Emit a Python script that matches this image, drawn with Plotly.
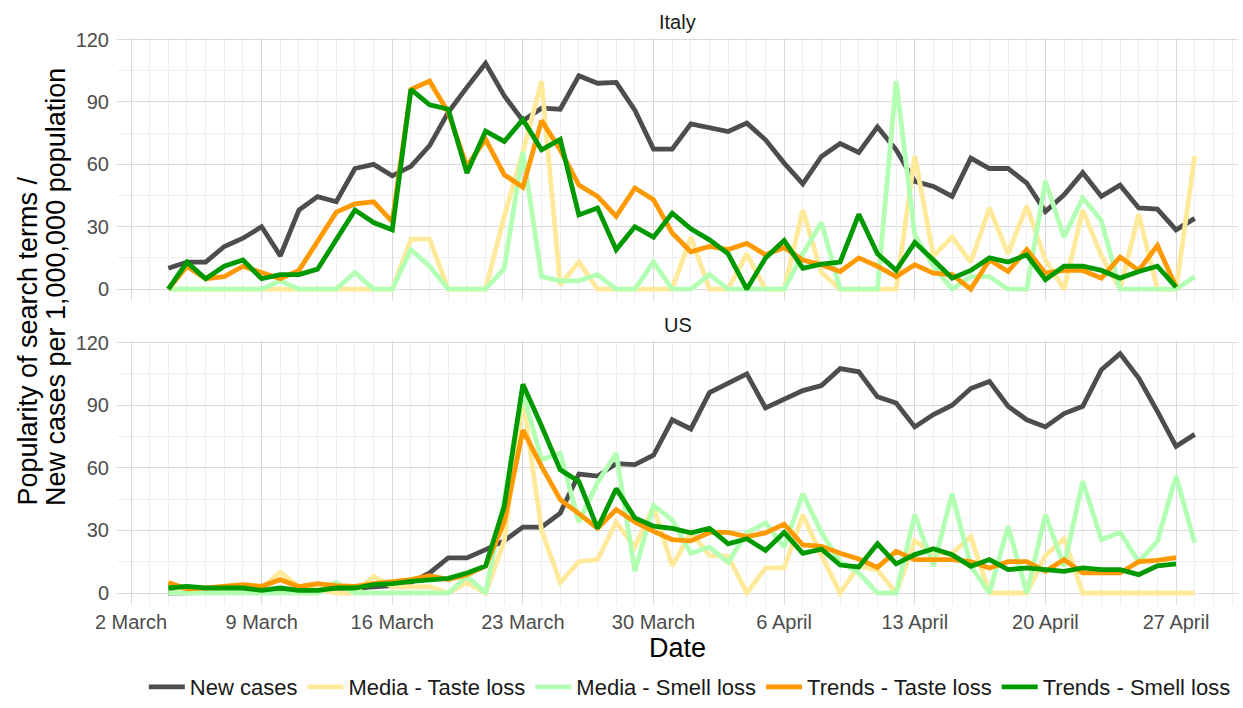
import pandas as pd
import plotly.graph_objects as go

# ---------------- data ----------------
dates = pd.date_range("2020-03-04", "2020-04-28", freq="D")

italy_new_cases = [10, 13, 13, 20.5, 24.5, 30, 16, 38, 44.5, 42, 58, 60, 54.5, 59, 69, 85, 97, 108.6, 93, 81,
                   87, 86.5, 102.6, 99, 99.4, 86, 67.3, 67.3, 79.5, 77.4, 75.8, 79.8, 71.8, 60.6, 50.6, 63.8, 70, 65.7, 78, 67,
                   51.8, 49.4, 44.6, 63, 58, 58, 51, 37.3, 45.4, 56, 44.6, 50, 39, 38.5, 28.5, 34]
italy_media_taste = [0, 0, 0, 0, 0, 0, 0, 0, 0, 0, 0, 0, 0, 24, 24, 0, 0, 0, 35, 66,
                     100, 2, 13, 0, 0, 0, 0, 0, 25, 0, 0, 17, 0, 0, 38, 8, 0, 0, 0, 0,
                     64, 16, 25, 13, 39, 17, 40, 14, 0, 38, 16, 0, 36, 0, 0, 64]
italy_media_smell = [0, 0, 0, 0, 0, 0, 4, 0, 0, 0, 8, 0, 0, 19, 11, 0, 0, 0, 10, 66,
                     6, 4, 4, 7, 0, 0, 13, 0, 0, 7, 0, 0, 0, 0, 17, 32, 0, 0, 0, 100,
                     26, 11, 0, 6, 6, 0, 0, 52, 25, 44, 33, 0, 0, 0, 0, 6]
italy_trends_taste = [0, 11, 5, 6, 11, 8, 5, 9, 23, 37, 41, 42, 32.5, 96, 100, 85, 59, 72, 55, 49,
                      81, 67, 50, 44.6, 35, 48.6, 43, 27, 18, 20.5, 19, 22, 16.5, 20, 14, 11.7, 8.5, 15, 11, 6,
                      11.7, 7.7, 7, 0, 14, 8.5, 19, 7.7, 9, 9, 5.3, 15.4, 9, 21, 1]
italy_trends_smell = [0, 13, 5, 11, 14, 5, 7, 7, 9.6, 24, 38, 32, 28.5, 96, 88.6, 86.5, 55.8, 76, 71, 81.5,
                      67, 72, 35.7, 39, 19, 30, 25, 36.5, 29, 23.7, 17, 0, 15, 23.4, 10, 12, 13, 36, 17, 9,
                      22.4, 14, 5.3, 9, 15, 13, 16.5, 4.5, 11, 11, 9, 5.3, 8.5, 11, 1]

us_new_cases = [0, 0, 0, 0, 0.5, 1, 1, 1, 1.5, 2, 2, 3, 3.5, 5, 9.6, 16.8, 16.8, 20.8, 25, 31.6,
                31.6, 38.3, 57, 56, 62, 61.5, 66, 83, 78.6, 96, 100.6, 105, 88.7, 92.7, 97, 99.4, 107.5, 106, 94, 91,
                79.6, 85.5, 90, 98, 101.4, 89.5, 83, 79.6, 86, 89.5, 107, 114.7, 103, 87, 70.3, 76]
us_media_taste = [3, 1, 1, 1, 2, 2, 10, 3, 2, 0, 0, 8, 3, 3, 3, 0, 5, 0, 25, 93,
                  30, 5, 15, 16, 34, 22, 41.5, 13, 29, 18, 17.6, 0, 12, 12, 37.5, 18, 0, 13, 11, 0,
                  25, 19, 19, 27, 0, 0, 0, 18, 26, 0, 0, 0, 0, 0, 0, 0]
us_media_smell = [0, 0, 0, 0, 0, 0, 0, 0, 0, 5, 0, 0, 0, 0, 0, 0, 8, 0, 45, 96,
                  64, 67, 34, 53, 67, 10.4, 42, 35, 19, 22, 14.7, 29, 33.5, 22, 47.6, 28.8, 15, 9.6, 0, 0,
                  37.5, 12.8, 47.6, 12.8, 0, 32, 0, 37.5, 12.8, 53.5, 25.6, 29, 15, 24.8, 56, 24]
us_trends_taste = [5, 2, 2.4, 3, 4, 3.2, 6.4, 3, 4.5, 3.5, 3.2, 4.5, 5.6, 6.4, 8.3, 6.4, 8.8, 13, 34, 78,
                   60.7, 44.7, 38, 31, 40, 34, 29.5, 25.6, 25, 29, 29, 27, 28.8, 33, 23, 22.4, 19, 16.3, 12.3, 20,
                   16, 16, 16, 15, 12, 15, 15, 10.4, 16, 9.6, 9.6, 9.6, 15, 15.6, 17]
us_trends_smell = [2.4, 3.2, 2.4, 2.4, 2.4, 1.3, 2.4, 1.3, 1.3, 2.4, 2.4, 4, 4.5, 5.6, 6.4, 7, 9.6, 13, 41.5, 100,
                   80, 59, 53.5, 31, 50, 36, 32, 31, 28.8, 31, 23.6, 26, 20.4, 29, 19, 21, 13.4, 12.5, 23.6, 14,
                   18.4, 21.2, 18.4, 12.8, 16, 11.2, 12, 11.2, 10.4, 12, 11.2, 11.2, 8.8, 13, 14]

series_names = ["New cases", "Media - Taste loss", "Media - Smell loss", "Trends - Taste loss", "Trends - Smell loss"]
series_colors = ["#4D4D4D", "#FFE99A", "#B3FFB3", "#FF9900", "#009900"]

x_tick_dates = ["2020-03-02", "2020-03-09", "2020-03-16", "2020-03-23", "2020-03-30",
                "2020-04-06", "2020-04-13", "2020-04-20", "2020-04-27"]
x_tick_labels = ["2 March", "9 March", "16 March", "23 March", "30 March",
                 "6 April", "13 April", "20 April", "27 April"]
y_ticks = [0, 30, 60, 90, 120]

# ---------------- figure ----------------
FONT = "Liberation Sans, Arial, sans-serif"
fig = go.Figure()

panels = [
    ("x", "y", [italy_new_cases, italy_media_taste, italy_media_smell, italy_trends_taste, italy_trends_smell]),
    ("x2", "y2", [us_new_cases, us_media_taste, us_media_smell, us_trends_taste, us_trends_smell]),
]
for p, (xa, ya, data) in enumerate(panels):
    for name, color, vals in zip(series_names, series_colors, data):
        fig.add_trace(go.Scatter(
            x=dates[:len(vals)], y=vals, mode="lines", name=name,
            line=dict(color=color, width=4.8), xaxis=xa, yaxis=ya,
            showlegend=(p == 0), legendgroup=name,
        ))

x_range = ["2020-03-01 06:00", "2020-04-30 07:40"]
grid_major = "#DADADA"
grid_minor = "#EFEFEF"

def xaxis_cfg(show_labels, anchor):
    return dict(
        type="date", range=x_range, anchor=anchor,
        tickmode="array", tickvals=x_tick_dates, ticktext=x_tick_labels,
        showticklabels=show_labels, showgrid=True, gridcolor=grid_major, gridwidth=1.3,
        zeroline=False, showline=False, ticks="", ticklabelstandoff=3,
        tickfont=dict(size=20, color="#4D4D4D", family=FONT),
        minor=dict(tick0="2020-03-01", dtick=86400000, showgrid=True, gridcolor=grid_minor, gridwidth=0.8),
    )

def yaxis_cfg(domain, anchor):
    return dict(
        domain=domain, range=[-5.75, 120.75], anchor=anchor,
        tickmode="array", tickvals=y_ticks, showgrid=True, gridcolor=grid_major, gridwidth=1.3,
        zeroline=False, showline=False, ticks="", ticklabelstandoff=7,
        tickfont=dict(size=20, color="#4D4D4D", family=FONT),
        minor=dict(tickvals=[15, 45, 75, 105], showgrid=True, gridcolor=grid_minor, gridwidth=0.8),
    )

fig.update_layout(
    width=1243, height=708,
    margin=dict(l=117, r=5, t=38, b=103, autoexpand=False),
    paper_bgcolor="white", plot_bgcolor="white",
    font=dict(family=FONT, color="#1A1A1A"),
    xaxis=xaxis_cfg(False, "y"),
    xaxis2=xaxis_cfg(True, "y2"),
    yaxis=yaxis_cfg([0.536, 1.0], "x"),
    yaxis2=yaxis_cfg([0.0, 0.4656], "x2"),
    legend=dict(orientation="h", x=0.511, xanchor="center", y=-0.1817, yanchor="bottom",
                font=dict(size=22, color="#1A1A1A", family=FONT), itemwidth=36,
                bgcolor="rgba(0,0,0,0)", borderwidth=0),
    showlegend=True,
)
fig.update_xaxes(matches="x")

fig.add_annotation(text="Italy", xref="paper", yref="paper", x=0.5, y=1.028, showarrow=False,
                   font=dict(size=20, color="#1A1A1A", family=FONT), xanchor="center", yanchor="middle")
fig.add_annotation(text="US", xref="paper", yref="paper", x=0.5, y=0.4938, showarrow=False,
                   font=dict(size=20, color="#1A1A1A", family=FONT), xanchor="center", yanchor="middle")
fig.add_annotation(text="Date", xref="paper", yref="paper", x=0.5, y=-0.0758, showarrow=False,
                   font=dict(size=27, color="#000000", family=FONT), xanchor="center", yanchor="middle")
fig.add_annotation(text="Popularity of search terms /",
                   xref="paper", yref="paper", x=0, y=0.171, xshift=-117 + 28, textangle=-90, showarrow=False,
                   font=dict(size=27, color="#000000", family=FONT), xanchor="center", yanchor="bottom")
fig.add_annotation(text="New cases per 1,000,000 population",
                   xref="paper", yref="paper", x=0, y=0.171, xshift=-117 + 56, textangle=-90, showarrow=False,
                   font=dict(size=27, color="#000000", family=FONT), xanchor="center", yanchor="bottom")

fig.write_html("out.html", config={"displayModeBar": False},
               post_script="document.body.style.margin='0';document.body.style.overflow='hidden';")
